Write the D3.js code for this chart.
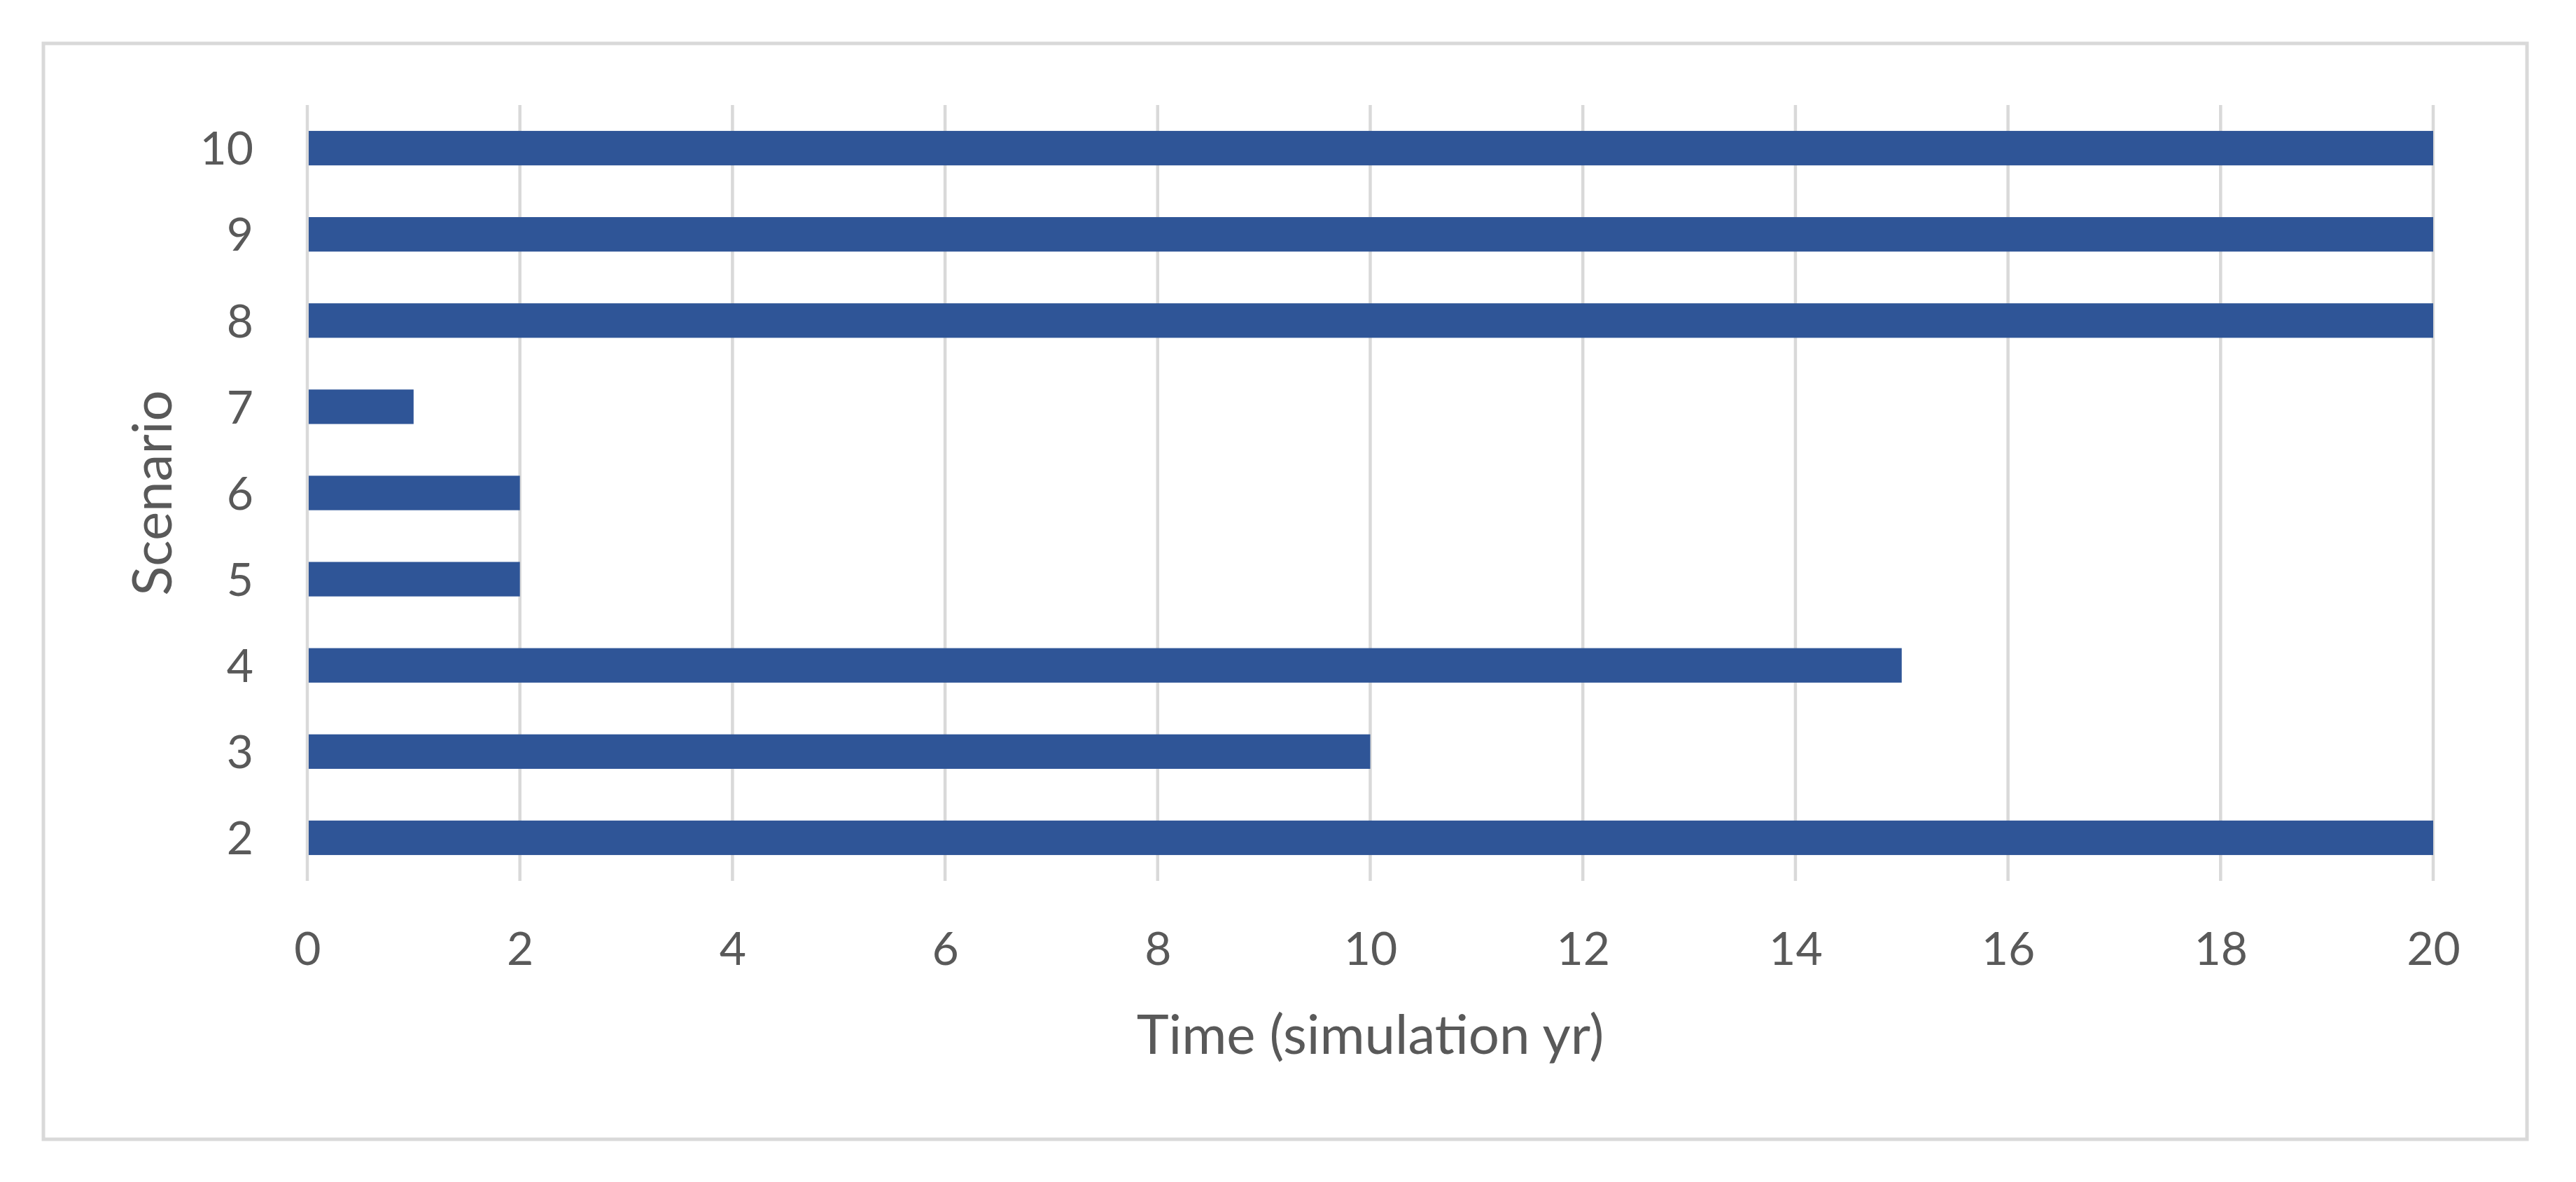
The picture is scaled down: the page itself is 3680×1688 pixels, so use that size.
<!DOCTYPE html>
<html>
<head>
<meta charset="utf-8">
<script src="https://cdn.jsdelivr.net/npm/d3@7"></script>
<style>
  html, body { margin: 0; padding: 0; background: #ffffff; }
  svg { display: block; }
</style>
</head>
<body>
<svg id="chart" width="3680" height="1688"></svg>
<script>
// ---- Data ----
const categories = ["2", "3", "4", "5", "6", "7", "8", "9", "10"];
const values = [20, 10, 15, 2, 2, 1, 20, 20, 20];
const xTicks = [0, 2, 4, 6, 8, 10, 12, 14, 16, 18, 20];
const xTitle = "Time (simulation yr)";
const yTitle = "Scenario";

// ---- Layout ----
const plot = { left: 439, right: 3476, top: 150, bottom: 1258 };
const textColor = "#595959";
const gridColor = "#D9D9D9";
const barColor = "#2F5597";
const fontFamily = "Lato, 'Open Sans', 'Noto Sans', sans-serif";

const svg = d3.select("#chart");

// outer border
svg.append("rect")
  .attr("x", 62).attr("y", 62)
  .attr("width", 3610 - 62).attr("height", 1627 - 62)
  .attr("fill", "#ffffff")
  .attr("stroke", gridColor)
  .attr("stroke-width", 5);

const x = d3.scaleLinear().domain([0, 20]).range([plot.left, plot.right]);
const y = d3.scaleBand()
  .domain(categories.slice().reverse())
  .range([plot.top, plot.bottom])
  .paddingInner(0.6)
  .paddingOuter(0.3);

// gridlines
svg.append("g")
  .selectAll("line")
  .data(xTicks)
  .join("line")
  .attr("x1", d => x(d)).attr("x2", d => x(d))
  .attr("y1", plot.top).attr("y2", plot.bottom)
  .attr("stroke", gridColor)
  .attr("stroke-width", 4.5);

// bars
svg.append("g")
  .selectAll("rect")
  .data(categories.map((c, i) => ({ c, v: values[i] })))
  .join("rect")
  .attr("x", x(0) + 2)
  .attr("y", d => y(d.c))
  .attr("width", d => x(d.v) - x(0) - 2)
  .attr("height", y.bandwidth())
  .attr("fill", barColor);

// x axis (labels only)
const xAxis = d3.axisBottom(x).tickValues(xTicks).tickSize(0).tickPadding(0).tickFormat(d3.format("d"));
const gx = svg.append("g").attr("transform", `translate(0, ${plot.bottom})`).call(xAxis);
gx.select(".domain").remove();
gx.selectAll("text")
  .attr("y", 120)
  .attr("dy", 0)
  .attr("fill", textColor)
  .style("font-family", fontFamily)
  .style("font-size", "66px");

// y axis (labels only)
const yAxis = d3.axisLeft(y).tickSize(0).tickPadding(0);
const gy = svg.append("g").attr("transform", `translate(${plot.left}, 0)`).call(yAxis);
gy.select(".domain").remove();
gy.selectAll("text")
  .attr("x", -77)
  .attr("dy", "0.36em")
  .attr("fill", textColor)
  .style("font-family", fontFamily)
  .style("font-size", "66px");

// axis titles
svg.append("text")
  .attr("x", (plot.left + plot.right) / 2)
  .attr("y", 1505)
  .attr("text-anchor", "middle")
  .attr("fill", textColor)
  .style("font-family", fontFamily)
  .style("font-size", "78px")
  .text(xTitle);

svg.append("text")
  .attr("transform", `translate(245, ${(plot.top + plot.bottom) / 2}) rotate(-90)`)
  .attr("text-anchor", "middle")
  .attr("fill", textColor)
  .style("font-family", fontFamily)
  .style("font-size", "78px")
  .text(yTitle);
</script>
</body>
</html>
